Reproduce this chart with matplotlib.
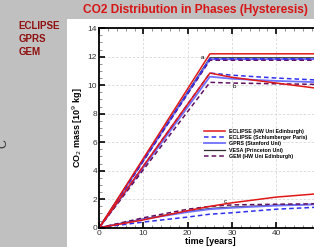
import numpy as np
import matplotlib.pyplot as plt
from matplotlib.patches import Rectangle
from matplotlib.ticker import MultipleLocator

plt.rcParams['font.family'] = ['Liberation Sans', 'DejaVu Sans']

# dados (tempo em anos, massa em 10^9 kg)
t = [0, 25, 30, 40, 50]
t_c = [0, 10, 20, 25, 30, 40, 50]

series = ['ECLIPSE (HW Uni Edinburgh)', 'ECLIPSE (Schlumberger Paris)',
          'GPRS (Stanford Uni)', 'VESA (Princeton Uni)', 'GEM (HW Uni Edinburgh)']

# curva a: massa total
a_vals = {
    'ECLIPSE (HW Uni Edinburgh)': [0, 12.2, 12.2, 12.2, 12.2],
    'ECLIPSE (Schlumberger Paris)': [0, 11.85, 11.85, 11.85, 11.85],
    'GPRS (Stanford Uni)': [0, 11.82, 11.82, 11.82, 11.82],
    'VESA (Princeton Uni)': [0, 11.92, 11.92, 11.92, 11.92],
    'GEM (HW Uni Edinburgh)': [0, 11.75, 11.75, 11.75, 11.75],
}
# curva b: fase livre
b_vals = {
    'ECLIPSE (HW Uni Edinburgh)': [0, 10.85, 10.55, 10.15, 9.75],
    'ECLIPSE (Schlumberger Paris)': [0, 10.85, 10.7, 10.5, 10.35],
    'GPRS (Stanford Uni)': [0, 10.6, 10.45, 10.3, 10.2],
    'GEM (HW Uni Edinburgh)': [0, 10.2, 10.15, 10.1, 10.05],
}
# curva c: dissolvido
c_vals = {
    'ECLIPSE (HW Uni Edinburgh)': [0, 0.55, 1.2, 1.5, 1.75, 2.15, 2.4],
    'ECLIPSE (Schlumberger Paris)': [0, 0.4, 0.75, 0.95, 1.05, 1.3, 1.45],
    'GPRS (Stanford Uni)': [0, 0.6, 1.1, 1.3, 1.4, 1.55, 1.65],
    'VESA (Princeton Uni)': [0, 0.62, 1.15, 1.35, 1.45, 1.58, 1.65],
    'GEM (HW Uni Edinburgh)': [0, 0.7, 1.3, 1.5, 1.6, 1.65, 1.68],
}

estilos = {
    'ECLIPSE (HW Uni Edinburgh)': dict(color='#e01818', ls='-', lw=1.1),
    'ECLIPSE (Schlumberger Paris)': dict(color='#3030f0', ls=(0, (3, 2)), lw=1.1),
    'GPRS (Stanford Uni)': dict(color='#7070ff', ls='-', lw=1.3),
    'VESA (Princeton Uni)': dict(color='#303030', ls='-', lw=0.9),
    'GEM (HW Uni Edinburgh)': dict(color='#601060', ls=(0, (3, 2)), lw=1.1),
}
ordem = ['VESA (Princeton Uni)', 'GPRS (Stanford Uni)', 'GEM (HW Uni Edinburgh)',
         'ECLIPSE (Schlumberger Paris)', 'ECLIPSE (HW Uni Edinburgh)']

fig = plt.figure(figsize=(3.14, 2.47), dpi=100)
fig.patch.set_facecolor('#c0c0c0')
fig.patches.append(Rectangle((0.213, 0), 0.8, 0.923, transform=fig.transFigure,
                             facecolor='white', edgecolor='none', zorder=-5))

ax = fig.add_axes([0.316, 0.078, 0.705, 0.808])
ax.set_facecolor('none')
ax.set_zorder(2)

handles = {}
for nome in ordem:
    st = estilos[nome]
    handles[nome], = ax.plot(t, a_vals[nome], **st)
    if nome in b_vals:
        ax.plot(t, b_vals[nome], **st)
    ax.plot(t_c, c_vals[nome], **st)

ax.text(23.3, 11.95, 'a', fontsize=4.5, ha='center', va='center')
ax.text(30.5, 9.9, 'b', fontsize=4.5, ha='center', va='center')
ax.text(28.5, 1.85, 'c', fontsize=4.5, ha='center', va='center')

ax.set_xlim(0, 50)
ax.set_ylim(0, 14)
ax.set_xticks([0, 10, 20, 30, 40])
ax.xaxis.set_minor_locator(MultipleLocator(2))
ax.yaxis.set_major_locator(MultipleLocator(2))
ax.yaxis.set_minor_locator(MultipleLocator(0.5))
ax.tick_params(which='both', direction='in', top=True, right=True,
               labelsize=6, labelcolor='#333333', pad=1.5)
ax.tick_params(which='major', length=4, width=1.2)
ax.tick_params(which='minor', length=2, width=0.5, color='#666666')
ax.grid(True, which='major', ls=(0, (3, 2)), color='#d8d8d8', lw=0.6)
for s in ax.spines.values():
    s.set_linewidth(1.3)

ax.set_xlabel('time [years]', fontsize=6.5, fontweight='bold', labelpad=0)
ax.set_ylabel('CO$_2$ mass [10$^9$ kg]', fontsize=6.5, fontweight='bold', labelpad=2)

ax.legend([handles[n] for n in series], series, loc='upper left',
          bbox_to_anchor=(0.46, 0.51), frameon=False, handlelength=4,
          labelspacing=0.25, borderpad=0, prop={'weight': 'bold', 'size': 3.8})

fig.text(0.623, 0.96, 'CO2 Distribution in Phases (Hysteresis)', color='#d81414',
         fontsize=8.6, fontweight='bold', ha='center', va='center')
for i, nome in enumerate(['ECLIPSE', 'GPRS', 'GEM']):
    fig.text(0.06, 0.893 - i * 0.051, nome, color='#900f0f', fontsize=7,
             fontweight='bold', ha='left', va='center')
fig.text(0.01, 0.42, 'C', color='#333333', fontsize=9, rotation=90,
         ha='center', va='center')

fig.savefig('out.png', dpi=100, facecolor=fig.get_facecolor())
